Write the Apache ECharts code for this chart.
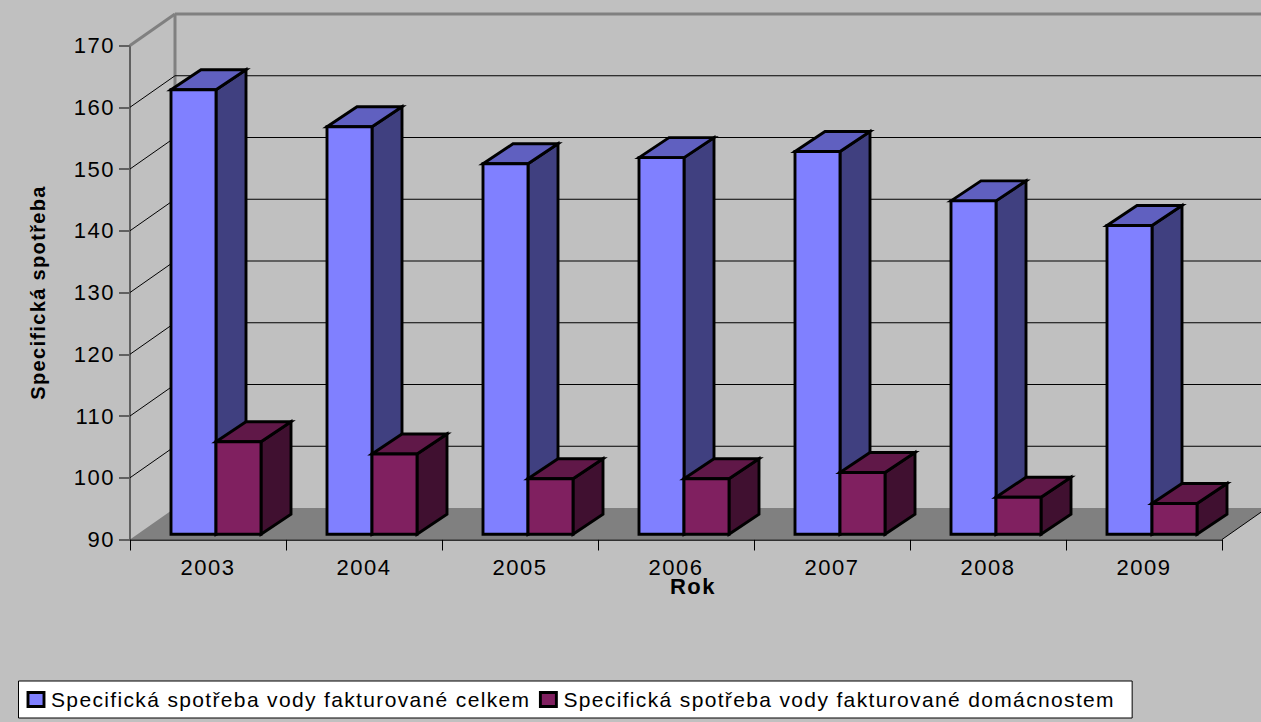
<!DOCTYPE html>
<html><head><meta charset="utf-8">
<style>html,body{margin:0;padding:0;background:#c0c0c0}#c{width:1261px;height:722px}
#c text{letter-spacing:1.35px}
#c text[style*="22px"]{letter-spacing:1.5px}
#c path[fill="#8080ff"],#c path[fill="rgb(128,128,255)"],#c path[fill="#802060"],#c path[fill="rgb(128,32,96)"]{stroke:#000;stroke-width:2.9px}</style>
<script src="https://cdn.jsdelivr.net/npm/echarts@6/dist/echarts.min.js"></script></head>
<body><div id="c"></div>
<script>
const categories=['2003','2004','2005','2006','2007','2008','2009'];
const totalName='Specifická spotřeba vody fakturované celkem';
const homeName='Specifická spotřeba vody fakturované domácnostem';
const totalValues=[162,156,150,151,152,144,140];
const homeValues=[105,103,99,99,100,96,95];
const yTicks=[100,110,120,130,140,150,160,170];
const yMin=90,yMax=170;

// 3D projection offsets in px
const WALL_DX=45,WALL_DY=-31.5;
const BAR_DX=8,BAR_DY=-5.2;
const DEPTH_DX=30,DEPTH_DY=-20;
const BAR_W=45;

function bar3d(colors,side){
  return function(params,api){
    const i=api.value(0),v=api.value(1);
    const top=api.coord([i,v]), base=api.coord([i,yMin]);
    const cx=top[0]+BAR_DX;
    const x0=side<0?cx-BAR_W:cx, x1=x0+BAR_W;
    const yt=top[1]+BAR_DY, yb=base[1]+BAR_DY;
    const st={stroke:'#000',lineWidth:2.9,lineJoin:'miter'};
    const poly=(pts,fill)=>({type:'polygon',shape:{points:pts},style:Object.assign({fill},st)});
    return {type:'group',children:[
      poly([[x1,yt],[x1+DEPTH_DX,yt+DEPTH_DY],[x1+DEPTH_DX,yb+DEPTH_DY],[x1,yb]],colors.side),
      poly([[x0,yt],[x0+DEPTH_DX,yt+DEPTH_DY],[x1+DEPTH_DX,yt+DEPTH_DY],[x1,yt]],colors.top),
      poly([[x0,yt],[x1,yt],[x1,yb],[x0,yb]],colors.front)
    ]};
  };
}
function wall(params,api){
  const v=api.value(0);
  const p=api.coord([0,v]);
  const x0=params.coordSys.x, x1=x0+params.coordSys.width;
  const isTop=v===yMax;
  const style=isTop?{stroke:'#808080',lineWidth:3}:{stroke:'#000',lineWidth:1};
  const line=(a,b,c,d)=>({type:'line',shape:{x1:a,y1:b,x2:c,y2:d},style});
  return {type:'group',children:[
    line(x0,p[1],x0+WALL_DX,p[1]+WALL_DY),
    line(x0+WALL_DX,p[1]+WALL_DY,x1+WALL_DX,p[1]+WALL_DY)
  ]};
}
function floor(params,api){
  const b=api.coord([0,yMin]), t=api.coord([0,yMax]);
  const x0=params.coordSys.x, x1=x0+params.coordSys.width;
  return {type:'group',children:[
    {type:'polygon',shape:{points:[[x0,b[1]],[x0+WALL_DX,b[1]+WALL_DY],[x1+WALL_DX,b[1]+WALL_DY],[x1,b[1]]]},style:{fill:'#808080'}},
    {type:'line',shape:{x1:x0+WALL_DX,y1:t[1]+WALL_DY,x2:x0+WALL_DX,y2:b[1]+WALL_DY},style:{stroke:'#808080',lineWidth:3}},
    {type:'line',shape:{x1:x1,y1:b[1],x2:x1+WALL_DX,y2:b[1]+WALL_DY},style:{stroke:'#000',lineWidth:1}}
  ]};
}
const font='"Liberation Sans", Arial, sans-serif';
const chart=echarts.init(document.getElementById('c'),null,{renderer:'svg',width:1261,height:722});
const legendIconStyle={borderColor:'#000',borderWidth:3,borderType:'solid'};
chart.setOption({
  animation:false,
  backgroundColor:'#c0c0c0',
  textStyle:{fontFamily:font,color:'#000'},
  grid:{left:130,right:39,top:45.5,bottom:182.5},
  xAxis:{type:'category',data:categories,
    name:'Rok',nameLocation:'middle',nameGap:36,nameMoveOverlap:false,
    nameTextStyle:{fontFamily:font,fontSize:22,fontWeight:'bold',color:'#000',padding:[0,0,0,34]},
    axisLine:{show:true,lineStyle:{color:'#000',width:1.5}},
    axisTick:{show:true,length:11,alignWithLabel:false,lineStyle:{color:'#000',width:1}},
    axisLabel:{fontFamily:font,fontSize:22,color:'#000',margin:17},
    splitLine:{show:false}},
  yAxis:{type:'value',min:yMin,max:yMax,interval:10,
    name:'Specifická spotřeba',nameLocation:'middle',nameGap:82,nameRotate:90,nameMoveOverlap:false,
    nameTextStyle:{fontFamily:font,fontSize:20,fontWeight:'bold',color:'#000'},
    axisLine:{show:true,lineStyle:{color:'#606060',width:2}},
    axisTick:{show:true,length:11,lineStyle:{color:'#606060',width:2}},
    axisLabel:{fontFamily:font,fontSize:22,color:'#000',margin:15},
    splitLine:{show:false}},
  legend:{show:true,left:18.5,top:681,orient:'horizontal',
    backgroundColor:'#fff',borderColor:'#000',borderWidth:1,borderRadius:0,
    padding:[8,82,8,8],itemGap:66.5,itemWidth:16,itemHeight:14,icon:'rect',
    itemStyle:legendIconStyle,
    textStyle:{fontFamily:font,fontSize:21,color:'#000',padding:[0,0,0,2]},
    data:[{name:totalName,itemStyle:legendIconStyle},{name:homeName,itemStyle:legendIconStyle}]},
  series:[
    {type:'custom',name:'floor',renderItem:floor,data:[[0]],z:1,silent:true,clip:false},
    {type:'custom',name:'wall',renderItem:wall,data:yTicks.map(v=>[v]),z:1,silent:true,clip:false},
    {type:'custom',name:totalName,renderItem:bar3d({front:'#8080ff',top:'#6060c0',side:'#404080'},-1),
      data:totalValues.map((v,i)=>[i,v]),encode:{x:0,y:1},z:3,clip:false,
      itemStyle:{color:'#8080ff',borderColor:'#000',borderWidth:3}},
    {type:'custom',name:homeName,renderItem:bar3d({front:'#802060',top:'#601848',side:'#401030'},1),
      data:homeValues.map((v,i)=>[i,v]),encode:{x:0,y:1},z:4,clip:false,
      itemStyle:{color:'#802060',borderColor:'#000',borderWidth:3}}
  ]
});
</script></body></html>
